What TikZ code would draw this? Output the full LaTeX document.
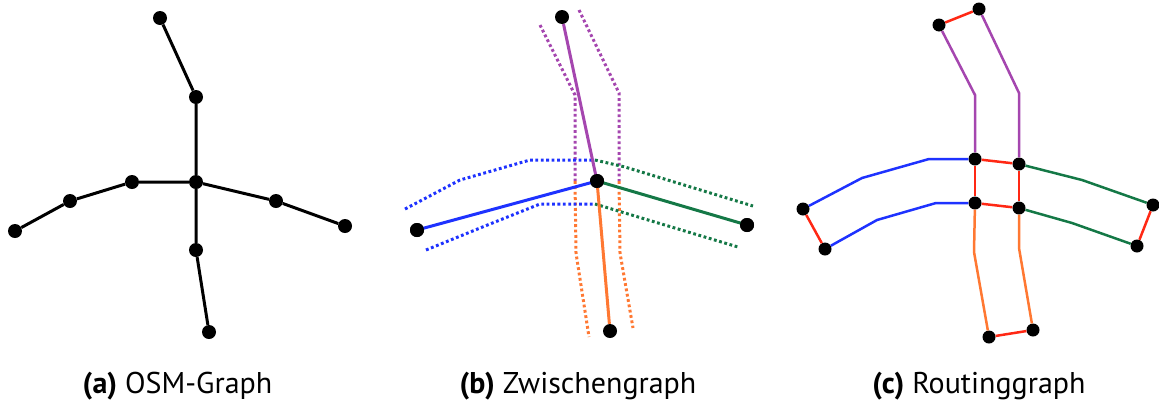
\documentclass[tikz,border=0pt]{standalone}
\usepackage{fontspec}
\setmainfont{PT Sans}
\definecolor{cblue}{RGB}{30,50,255}
\definecolor{cpurple}{RGB}{165,70,175}
\definecolor{cgreen}{RGB}{20,120,70}
\definecolor{corange}{RGB}{255,120,50}
\definecolor{cred}{RGB}{255,40,20}
\tikzset{
  dotA/.style={circle,fill=black,inner sep=0pt,minimum size=14pt},
  dotC/.style={circle,fill=black,inner sep=0pt,minimum size=13pt},
  edgeA/.style={line width=3pt,black},
  edgeB/.style={line width=3pt},
  edgeC/.style={line width=2.5pt},
  hull/.style={line width=3pt,dash pattern=on 2.8pt off 2.6pt},
  captext/.style={anchor=base,font=\fontsize{30}{34}\selectfont}
}
\begin{document}
\begin{tikzpicture}[x=1pt,y=-1pt]
\useasboundingbox (0,0) rectangle (1159,405);
% ---------- (a) ----------
\node[dotA] (a1) at (160,18) {};
\node[dotA] (a2) at (196,97) {};
\node[dotA] (ac) at (196,182) {};
\node[dotA] (al1) at (132,182) {};
\node[dotA] (al2) at (70,201) {};
\node[dotA] (al3) at (15,231) {};
\node[dotA] (ar1) at (276,201) {};
\node[dotA] (ar2) at (345,226) {};
\node[dotA] (ad1) at (196,250) {};
\node[dotA] (ad2) at (209,332) {};
\draw[edgeA] (a1) -- (a2) -- (ac) -- (ad1) -- (ad2);
\draw[edgeA] (al3) -- (al2) -- (al1) -- (ac) -- (ar1) -- (ar2);
% ---------- (b) ----------
\draw[hull,cpurple] (540,25) -- (575,95) -- (575,181);
\draw[hull,corange] (575,181) -- (576,253) -- (589,337);
\draw[hull,cpurple] (579,10) -- (619,93) -- (619,181);
\draw[hull,corange] (619,181) -- (620,253) -- (633,328);
\draw[hull,cblue] (405,209) -- (460,180) -- (530,160) -- (595,160);
\draw[hull,cgreen] (595,160) -- (625,167) -- (753,206);
\draw[hull,cblue] (426,250) -- (485,226) -- (540,204) -- (595,204);
\draw[hull,cgreen] (595,204) -- (738,247);
\node[dotA] (bt) at (562,17) {};
\node[dotA] (bc) at (597,181) {};
\node[dotA] (bl) at (417,230) {};
\node[dotA] (br) at (747,225) {};
\node[dotA] (bb) at (610,331) {};
\draw[edgeB,cpurple] (bt) -- (bc.center);
\draw[edgeB,corange] (bc.center) -- (bb);
\draw[edgeB,cblue] (bl.center) -- (bc.center);
\draw[edgeB,cgreen] (bc.center) -- (br.center);
\node[dotA] at (bc) {};
\node[dotA] at (bl) {};
\node[dotA] at (br) {};
% ---------- (c) ----------
\node[dotC] (ctl) at (939,25) {};
\node[dotC] (ctr) at (979,9) {};
\node[dotC] (c1) at (975,159) {};
\node[dotC] (c2) at (1019,164) {};
\node[dotC] (c3) at (975,203) {};
\node[dotC] (c4) at (1019,208) {};
\node[dotC] (cl1) at (803,209) {};
\node[dotC] (cl2) at (825,249) {};
\node[dotC] (cr1) at (1153,205) {};
\node[dotC] (cr2) at (1137,246) {};
\node[dotC] (cb1) at (989,337) {};
\node[dotC] (cb2) at (1033,330) {};
\draw[edgeC,cpurple] (ctl) -- (975,95) -- (c1);
\draw[edgeC,cpurple] (ctr) -- (1019,93) -- (c2);
\draw[edgeC,cblue] (cl1) -- (862,178) -- (929,159) -- (c1);
\draw[edgeC,cblue] (cl2) -- (877,220) -- (936,203) -- (c3);
\draw[edgeC,cgreen] (c2) -- (1082,180) -- (cr1);
\draw[edgeC,cgreen] (c4) -- (1072,223) -- (cr2);
\draw[edgeC,corange] (c3) -- (974,252) -- (cb1);
\draw[edgeC,corange] (c4) -- (1019,248) -- (cb2);
\draw[edgeC,cred] (ctl) -- (ctr);
\draw[edgeC,cred] (c1) -- (c2);
\draw[edgeC,cred] (c1) -- (c3);
\draw[edgeC,cred] (c2) -- (c4);
\draw[edgeC,cred] (c3) -- (c4);
\draw[edgeC,cred] (cl1) -- (cl2);
\draw[edgeC,cred] (cr1) -- (cr2);
\draw[edgeC,cred] (cb1) -- (cb2);
% ---------- captions ----------
\node[captext] (capa) at (177.5,393) {\textbf{(a)} OSM-Graph};
\node[captext] (capb) at (578,393) {\textbf{(b)} Zwischengraph};
\node[captext] (capc) at (979,393) {\textbf{(c)} Routinggraph};
\end{tikzpicture}
\end{document}
